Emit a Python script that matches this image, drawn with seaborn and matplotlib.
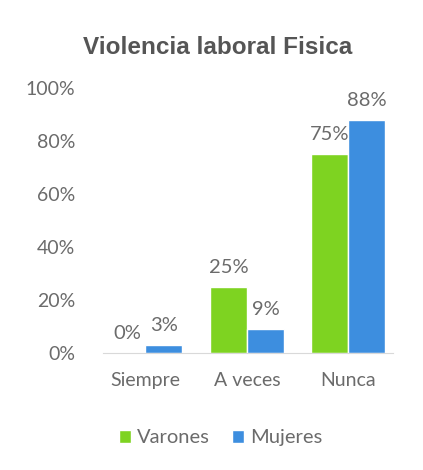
import pandas as pd
import numpy as np
import matplotlib.pyplot as plt
import seaborn as sns

# --- data ---
categories = ['Siempre', 'A veces', 'Nunca']
varones = [0, 25, 75]
mujeres = [3, 9, 88]
series = ['Varones', 'Mujeres']
colors = ['#7ED321', '#3D8EDF']

df = pd.DataFrame({
    'Categoria': categories * 2,
    'Sexo': ['Varones'] * 3 + ['Mujeres'] * 3,
    'Valor': varones + mujeres,
})

sns.set_style('white')
plt.rcParams['font.family'] = ['Lato', 'DejaVu Sans']
text_color = '#6B6B6B'

fig = plt.figure(figsize=(4.23, 4.70), dpi=100)
ax = fig.add_axes([0.243, 0.249, 0.686, 0.564])

sns.barplot(data=df, x='Categoria', y='Valor', hue='Sexo', hue_order=series,
            palette=colors, width=0.73, saturation=1, ax=ax)

for cont in ax.containers:
    ax.bar_label(cont, labels=[f'{v:.0f}%' for v in cont.datavalues],
                 padding=8, fontsize=14.5, color=text_color)

ax.set_ylim(0, 100)
ax.set_xlim(-0.42, 2.44)
ax.set_yticks([0, 20, 40, 60, 80, 100])
ax.set_yticklabels([f'{t}%' for t in [0, 20, 40, 60, 80, 100]])
ax.tick_params(axis='both', length=0, labelsize=14, colors=text_color)
ax.tick_params(axis='y', pad=20)
ax.tick_params(axis='x', pad=14)
ax.set_xlabel('')
ax.set_ylabel('')
for s in ['top', 'right', 'left']:
    ax.spines[s].set_visible(False)
ax.spines['bottom'].set_color('#D9D9D9')

fig.text(0.515, 0.9, 'Violencia laboral Fisica', ha='center', va='center',
         fontsize=17.5, fontweight='bold', color='#555555', family=['Liberation Sans'])

ax.legend(loc='upper center', bbox_to_anchor=(0.405, -0.22), ncol=2, frameon=False,
          fontsize=14.5, labelcolor=text_color, handlelength=0.6, handleheight=0.6,
          handletextpad=0.3, columnspacing=1.1)

fig.savefig('out.png', dpi=100)
